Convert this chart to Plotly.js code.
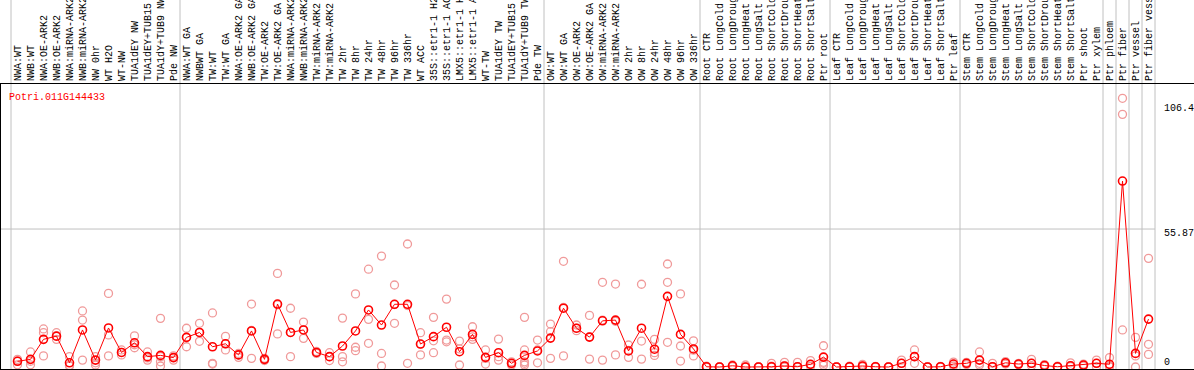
<!DOCTYPE html>
<html>
<head>
<meta charset="utf-8">
<script src="https://cdn.plot.ly/plotly-3.0.1.min.js"></script>
<style>
html,body{margin:0;padding:0;background:#fff;}
#chart{width:1194px;height:370px;}
</style>
</head>
<body>
<div id="chart"></div>
<script>
// ---- categories (grouped, separators drawn between groups) ----
const groupNW = ['NWA:WT','NWB:WT','NWA:OE-ARK2','NWB:OE-ARK2','NWA:miRNA-ARK2','NWB:miRNA-ARK2','NW 0hr','WT H2O','WT-NW','TUA1dEY NW','TUA1dEY+TUB15 NW','TUA1dY+TUB9 NW','Pde NW'];
const groupTW = ['NWA:WT GA','NWBWT GA','TW:WT','TW:WT GA','NWA:OE-ARK2 GA','NWB:OE-ARK2 GA','TW:OE-ARK2','TW:OE-ARK2 GA','NWA:miRNA-ARK2 GA','NWB:miRNA-ARK2 GA','TW:miRNA-ARK2','TW:miRNA-ARK2 GA','TW 2hr','TW 8hr','TW 24hr','TW 48hr','TW 96hr','TW 336hr','WT ACC','35S::etr1-1 H2O','35S::etr1-1 ACC','LMX5::etr1-1 H2O','LMX5::etr1-1 ACC','WT-TW','TUA1dEY TW','TUA1dEY+TUB15 TW','TUA1dY+TUB9 TW','Pde TW'];
const groupOW = ['OW:WT','OW:WT GA','OW:OE-ARK2','OW:OE-ARK2 GA','OW:miRNA-ARK2','OW:miRNA-ARK2 GA','OW 2hr','OW 8hr','OW 24hr','OW 48hr','OW 96hr','OW 336hr'];
const groupRoot = ['Root CTR','Root LongCold','Root LongDrought','Root LongHeat','Root LongSalt','Root ShortCold','Root ShortDrought','Root ShortHeat','Root ShortSalt','Ptr root'];
const groupLeaf = ['Leaf CTR','Leaf LongCold','Leaf LongDrought','Leaf LongHeat','Leaf LongSalt','Leaf ShortCold','Leaf ShortDrought','Leaf ShortHeat','Leaf ShortSalt','Ptr leaf'];
const groupStem = ['Stem CTR','Stem LongCold','Stem LongDrought','Stem LongHeat','Stem LongSalt','Stem ShortCold','Stem ShortDrought','Stem ShortHeat','Stem ShortSalt','Ptr shoot','Ptr xylem'];
const groupPhloem = ['Ptr phloem'];
const groupFiber = ['Ptr fiber'];
const groupVessel = ['Ptr vessel'];
const groupFiberVessel = ['Ptr fiber vessel'];
const groups = [groupNW, groupTW, groupOW, groupRoot, groupLeaf, groupStem, groupPhloem, groupFiber, groupVessel, groupFiberVessel];
const categories = groups.flat();

// ---- mean expression (red line) ----
const meanValues = [
  2.3, 3.1, 11.2, 12.5, 1.7, 15.0, 2.8, 15.8, 5.9, 9.8, 4.2, 4.7, 3.8,
  12.0, 14.0, 8.2, 9.4, 4.9, 14.6, 3.1, 25.5, 14.0, 15.0, 5.9, 4.2, 8.5, 14.6, 23.1, 17.0, 25.4, 25.4, 9.3, 12.3, 16.1, 6.2, 13.2, 3.9, 5.8, 1.5, 4.7, 6.5,
  11.7, 23.8, 15.7, 12.1, 18.7, 19.0, 6.5, 15.7, 7.2, 28.6, 13.2, 7.3,
  0.1, 0.0, 0.5, 0.0, 0.0, 0.1, 0.4, 0.1, 1.1, 4.0,
  0.0, 0.1, 0.4, 0.1, 0.0, 1.5, 4.2, 0.0, 0.1, 1.2,
  1.5, 2.8, 0.1, 1.7, 1.2, 1.5, 0.6, 0.1, 0.5, 0.8, 1.5,
  1.1, 75.3, 5.5, 19.4
];

// ---- individual replicates (pink circles) ----
const replicates = [
  [3.1,2.5,0.9],[6.1,2.3,0.9],[15.4,13.9,4.5],[13.9,12.5,11.2],[4.2,0.6,0.4],[22.7,19.0,2.8],[4.2,1.7,0.8],[29.8,13.0,4.5],[6.9,5.9,4.9],[12.6,9.0,7.8],[6.1,3.7,2.8],[19.7,4.2,2.1,0.4],[4.5,3.8,2.8],
  [15.7,12.0,8.2],[17.7,14.0,10.4],[21.9,1.5,1.2],[12.4,9.4,6.9],[5.5,4.9,3.9],[25.5,14.8,3.5],[3.5,3.1,2.6],[37.9,25.2,13.4],[23.8,14.0,4.2],[18.2,15.0,11.6],[6.3,5.9,5.5],[5.8,4.2,2.6],[19.8,4.2,2.1],[29.6,8.0,6.6],[39.6,19.3,9.6],[44.9,5.5,0.4],[33.2,25.3,17.7],[49.8,24.9,1.5],[13.9,9.3,4.9],[20.1,10.6,5.8],[27.5,10.9,10.2],[10.5,7.3,0.8],[16.3,12.2,11.2],[6.9,3.5,1.2],[11.3,4.2,2.8],[2.1,1.5,0.8],[20.1,6.9,2.1,1.5,0.8],[10.9,6.9,1.7],
  [17.4,14.3,3.5],[42.8,24.1,4.5],[17.0,15.7,14.7],[20.9,12.2,3.2],[34.3,19.0,2.8],[33.6,18.5,4.9],[8.9,6.7,3.9],[33.5,10.5,3.2],[11.2,5.8,4.7],[41.7,34.3,10.0],[29.6,8.5,2.4],[10.6,6.8,4.5],
  [0.3,0.1,0.0],[0.1,0.0,0.0],[0.8,0.5,0.2],[0.8,0.0,0.0],[0.1,0.0,0.0],[1.5,0.3,0.0],[1.9,0.4,0.0],[1.9,0.1,0.0],[2.6,1.1,0.3],[8.6,1.9,1.5,0.7],
  [0.1,0.0,0.0],[0.3,0.1,0.0],[1.1,0.4,0.1],[0.2,0.1,0.0],[0.1,0.0,0.0],[2.8,1.5,0.1],[6.9,4.2,1.5],[0.1,0.0,0.0],[0.2,0.1,0.0],[2.0,1.2,0.4],
  [1.9,1.5,1.0],[6.1,1.5,0.8],[1.5,0.1,0.0],[2.2,1.7,1.2],[1.5,1.2,0.9],[3.1,1.5,0.5],[1.0,0.7,0.3],[0.3,0.1,0.0],[1.7,0.5,0.2],[1.2,0.8,0.4],[2.8,1.5,0.1],
  [3.8,0.3,0.1],[108.8,102.3,15.0],[12.0,4.5,0.0],[44.0,9.2,5.1]
];

// ---- y labels / gridline ----
const yTickVals = [106.4, 55.87, 0];
const yTickText = ['106.4', '55.87', '0'];
const gridValue = 55.87;
const geneName = 'Potri.011G144433';

// ---- build traces ----
const repX = [], repY = [];
replicates.forEach((arr, i) => arr.forEach(v => { repX.push(categories[i]); repY.push(v); }));

const MONO = 'Liberation Mono, DejaVu Sans Mono, monospace';
const traces = [
  {
    type: 'scatter', mode: 'markers', x: repX, y: repY,
    marker: {symbol: 'circle-open', size: 8, color: '#F09A9A', line: {width: 1.3, color: '#F09A9A'}},
    hoverinfo: 'skip', showlegend: false
  },
  {
    type: 'scatter', mode: 'lines+markers', x: categories, y: meanValues,
    line: {color: '#FF0000', width: 1},
    marker: {symbol: 'circle-open', size: 8, color: '#FF0000', line: {width: 1.6, color: '#FF0000'}},
    hoverinfo: 'skip', showlegend: false
  }
];

// separators between groups
const n = categories.length;
const boundaries = [-0.5];
let acc = 0;
groups.forEach(g => { acc += g.length; boundaries.push(acc - 0.5); });

const plotTop = 84, plotBottom = 1, H = 370;
const plotH = H - plotTop - plotBottom;
const shapes = boundaries.map(b => ({
  type: 'line', xref: 'x', yref: 'paper', x0: b, x1: b, y0: 0, y1: 1 + plotTop / plotH,
  line: {color: '#C0C0C0', width: 1}, layer: 'below'
}));
shapes.push({
  type: 'line', xref: 'paper', yref: 'y', x0: 0, x1: (11 + 13 * n - 1) / 1193, y0: gridValue, y1: gridValue,
  line: {color: '#C0C0C0', width: 1}, layer: 'below'
});

const annotations = [{
  xref: 'paper', yref: 'paper', x: 6 / 1193, y: (plotH - 13) / plotH, xanchor: 'left', yanchor: 'middle',
  text: geneName, showarrow: false, font: {family: MONO, size: 10, color: '#FF0000'}
}];
yTickVals.forEach((v, i) => {
  annotations.push({
    xref: 'paper', yref: 'y', x: 1161 / 1193, y: v, xanchor: 'left', yanchor: 'middle',
    yshift: v === 0 ? 5 : -4,
    text: yTickText[i], showarrow: false, font: {family: MONO, size: 10, color: '#000'}
  });
});

const layout = {
  width: 1194, height: 370,
  margin: {l: 1, r: 0, t: plotTop, b: plotBottom, pad: 0},
  paper_bgcolor: '#fff', plot_bgcolor: '#fff',
  font: {family: MONO, size: 10, color: '#000'},
  showlegend: false,
  xaxis: {
    type: 'category', side: 'top', range: [-0.5 - 10 / 13, -0.5 + 1183 / 13],
    tickmode: 'linear', tick0: 0, dtick: 1, tickangle: -90, ticks: '',
    tickfont: {family: MONO, size: 10, color: '#000'},
    showgrid: false, zeroline: false, automargin: false,
    showline: true, linecolor: '#000', linewidth: 1, mirror: true
  },
  yaxis: {
    range: [-0.81, 114.6], showticklabels: false, ticks: '', showgrid: false, zeroline: false,
    showline: true, linecolor: '#000', linewidth: 1, automargin: false
  },
  shapes: shapes,
  annotations: annotations
};

Plotly.newPlot('chart', traces, layout, {staticPlot: true, displayModeBar: false});
</script>
</body>
</html>
